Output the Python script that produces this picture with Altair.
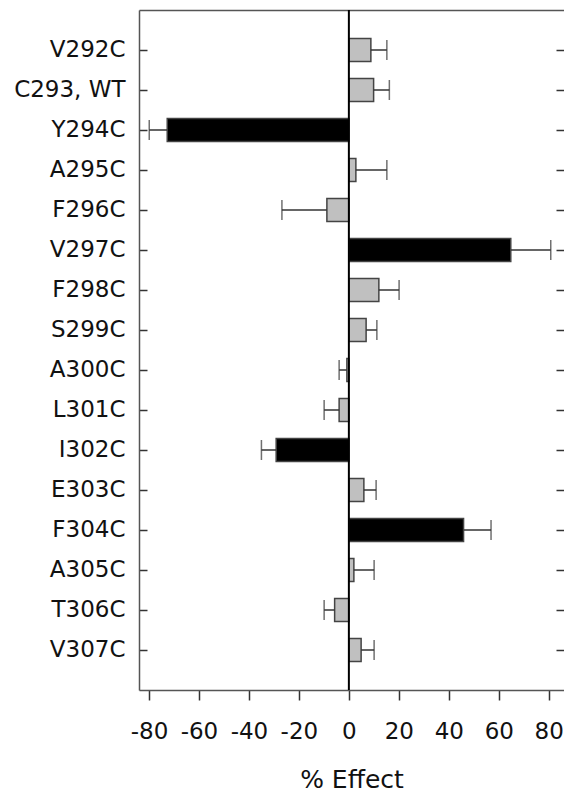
import altair as alt
import pandas as pd

mutants = ["V292C", "C293, WT", "Y294C", "A295C", "F296C", "V297C", "F298C", "S299C",
           "A300C", "L301C", "I302C", "E303C", "F304C", "A305C", "T306C", "V307C"]
effect = [8.8, 9.9, -72.7, 2.8, -8.8, 64.8, 12.0, 6.9, -0.8, -3.9, -29.1, 6.0, 45.9, 2.0, -5.7, 4.9]
error_end = [15.2, 16.2, -79.9, 15.2, -26.8, 80.8, 20.1, 11.2, -3.9, -9.9, -35.0, 10.9, 56.9, 10.1, -9.9, 10.1]
significant = ["no", "no", "yes", "no", "no", "yes", "no", "no",
               "no", "no", "yes", "no", "yes", "no", "no", "no"]
x_ticks = [-80, -60, -40, -20, 0, 20, 40, 60, 80]

df = pd.DataFrame({"mutant": mutants, "effect": effect, "err": error_end, "sig": significant})
zero_df = pd.DataFrame({"z": [0]})

FONT = "DejaVu Sans"
FRAME = "#555"
TICK = "#333"
xscale = alt.Scale(domain=[-84, 86.1], nice=False, zero=False)
yscale = alt.Scale(domain=mutants, paddingInner=0.425, paddingOuter=0.7125)

x_bottom = alt.Axis(orient="bottom", values=x_ticks, domain=True, domainColor=FRAME,
                    domainWidth=1.5, grid=False, tickSize=10, tickWidth=1.5,
                    tickColor=TICK, labelFont=FONT, labelFontSize=23, labelColor="#111",
                    labelExpr="datum.value", labelPadding=20, labelFlush=False,
                    titleFont=FONT, titleFontSize=25, titleFontWeight="normal",
                    titleColor="#111", titlePadding=24)
x_top = alt.Axis(orient="top", domain=True, domainColor=FRAME, domainWidth=1.5,
                 ticks=False, labels=False, grid=False, title=None)

y_left = alt.Y("mutant:N", sort=mutants, scale=yscale, title=None,
               axis=alt.Axis(orient="left", offset=-8, domain=False, tickSize=8, tickWidth=1.5,
                             tickColor=TICK, labelPadding=14, labelFont=FONT,
                             labelFontSize=23, labelColor="#111"))
y_frame = alt.Y("mutant:N", sort=mutants, scale=yscale, title=None,
                axis=alt.Axis(orient="left", domain=True, domainColor=FRAME, domainWidth=1.5,
                              ticks=False, labels=False))
y_right = alt.Y("mutant:N", sort=mutants, scale=yscale, title=None,
                axis=alt.Axis(orient="right", offset=-8, domain=False, tickSize=8, tickWidth=1.5,
                              tickColor=TICK, labels=False))

bars = alt.Chart(df).mark_bar(stroke="#444", strokeWidth=1.5).encode(
    x=alt.X("effect:Q", scale=xscale, title="% Effect", axis=x_bottom),
    x2=alt.datum(0),
    y=y_left,
    color=alt.Color("sig:N", scale=alt.Scale(domain=["no", "yes"], range=["#c0c0c0", "#000000"]),
                    legend=None),
)

err_lines = alt.Chart(df).mark_rule(color=TICK, strokeWidth=1.5).encode(
    x=alt.X("effect:Q", scale=xscale, axis=x_top),
    x2="err:Q",
    y=y_frame,
)

caps = alt.Chart(df).mark_tick(color=TICK, thickness=1.5, size=20).encode(
    x=alt.X("err:Q", scale=xscale, axis=None),
    y=y_right,
)

zero_line = alt.Chart(zero_df).mark_rule(color="#000", strokeWidth=2).encode(
    x=alt.X("z:Q", scale=xscale, axis=None),
)

chart = alt.layer(bars, err_lines, caps, zero_line).resolve_axis(
    x="independent", y="independent"
).properties(
    width=425, height=680,
    background="white",
    autosize=alt.AutoSizeParams(type="none"),
    padding={"left": 131, "top": 2, "right": 0, "bottom": 105},
).configure_view(stroke=None)

chart.save("out.html", embed_options={"renderer": "svg", "actions": False})
